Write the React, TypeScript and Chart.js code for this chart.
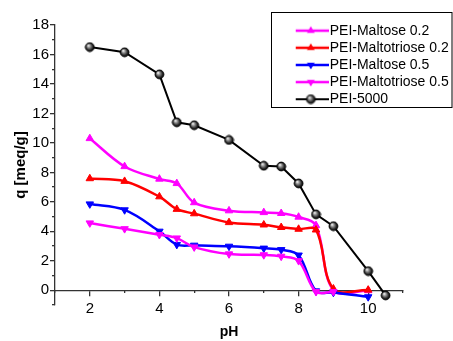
import React, { useEffect, useRef } from 'react';
import { Chart, registerables } from 'chart.js';

Chart.register(...registerables);

// ---- Data ----
const seriesNames = [
  'PEI-Maltose 0.2',
  'PEI-Maltotriose 0.2',
  'PEI-Maltose 0.5',
  'PEI-Maltotriose 0.5',
  'PEI-5000',
];

const phMaltose02 = [2, 3, 4, 4.5, 5, 6, 7, 7.5, 8, 8.5, 9, 10];
const qMaltose02 = [10.3, 8.4, 7.55, 7.25, 5.95, 5.4, 5.28, 5.22, 4.97, 4.4, 0.0, -0.02];

const phMaltotriose02 = [2, 3, 4, 4.5, 5, 6, 7, 7.5, 8, 8.5, 9, 10];
const qMaltotriose02 = [7.58, 7.4, 6.35, 5.5, 5.2, 4.6, 4.44, 4.27, 4.15, 4.1, 0.1, 0.02];

const phMaltose05 = [2, 3, 4, 4.5, 5, 6, 7, 7.5, 8, 8.5, 9, 10];
const qMaltose05 = [5.85, 5.45, 4.0, 3.1, 3.05, 2.98, 2.85, 2.75, 2.38, -0.05, -0.15, -0.45];

const phMaltotriose05 = [2, 3, 4, 4.5, 5, 6, 7, 7.5, 8, 8.5, 9];
const qMaltotriose05 = [4.56, 4.17, 3.77, 3.54, 2.93, 2.46, 2.4, 2.3, 2.0, -0.1, -0.1];

const phPEI5000 = [2, 3, 4, 4.5, 5, 6, 7, 7.5, 8, 8.5, 9, 10, 10.5];
const qPEI5000 = [16.5, 16.15, 14.65, 11.4, 11.2, 10.2, 8.45, 8.4, 7.25, 5.15, 4.35, 1.3, -0.35];

const xMajorTicks = [2, 4, 6, 8, 10];
const xMinorTicks = [1, 3, 5, 7, 9, 11];
const yMajorTicks = [0, 2, 4, 6, 8, 10, 12, 14, 16, 18];
const yMinorTicks = [-1, 1, 3, 5, 7, 9, 11, 13, 15, 17];

const FONT = "'Liberation Sans', Arial, Helvetica, sans-serif";
const AXIS = '#333333';

function makeSphere(r: number): HTMLCanvasElement {
  const size = Math.ceil(r * 2 + 2);
  const c = document.createElement('canvas');
  c.width = size;
  c.height = size;
  const ctx = c.getContext('2d')!;
  const cx = size / 2;
  const g = ctx.createRadialGradient(cx - r * 0.35, cx - r * 0.4, r * 0.05, cx, cx, r);
  g.addColorStop(0, '#ffffff');
  g.addColorStop(0.3, '#a0a0a0');
  g.addColorStop(0.75, '#2a2a2a');
  g.addColorStop(1, '#000000');
  ctx.beginPath();
  ctx.arc(cx, cx, r, 0, Math.PI * 2);
  ctx.fillStyle = g;
  ctx.fill();
  ctx.lineWidth = 1;
  ctx.strokeStyle = '#000';
  ctx.stroke();
  return c;
}

function makeLegendGlyph(color: string, kind: 'up' | 'down' | 'sphere', sphere: HTMLCanvasElement): HTMLCanvasElement {
  const w = 36;
  const h = 12;
  const c = document.createElement('canvas');
  c.width = w;
  c.height = h;
  const ctx = c.getContext('2d')!;
  const cy = h / 2;
  ctx.strokeStyle = color;
  ctx.lineWidth = kind === 'sphere' ? 2 : 2.5;
  ctx.beginPath();
  ctx.moveTo(0, cy);
  ctx.lineTo(w, cy);
  ctx.stroke();
  const cx = w / 2;
  if (kind === 'sphere') {
    ctx.drawImage(sphere, cx - sphere.width / 2, cy - sphere.height / 2);
  } else {
    const r = 4.5;
    const dir = kind === 'up' ? -1 : 1;
    ctx.beginPath();
    ctx.moveTo(cx, cy + dir * r);
    ctx.lineTo(cx + r * 0.866, cy - dir * r * 0.5);
    ctx.lineTo(cx - r * 0.866, cy - dir * r * 0.5);
    ctx.closePath();
    ctx.fillStyle = color;
    ctx.fill();
  }
  return c;
}

const toPoints = (xs: number[], ys: number[]) => xs.map((x, i) => ({ x, y: ys[i] }));

export default function App() {
  const canvasRef = useRef<HTMLCanvasElement | null>(null);

  useEffect(() => {
    const canvas = canvasRef.current;
    if (!canvas) return;

    const sphere = makeSphere(4.4);
    const colors = ['#ff00ff', '#ff0000', '#0000ff', '#ff00ff', '#000000'];
    const kinds: ('up' | 'down' | 'sphere')[] = ['up', 'up', 'down', 'down', 'sphere'];
    const glyphs = colors.map((c, i) => makeLegendGlyph(c, kinds[i], sphere));

    const xs = [phMaltose02, phMaltotriose02, phMaltose05, phMaltotriose05, phPEI5000];
    const ys = [qMaltose02, qMaltotriose02, qMaltose05, qMaltotriose05, qPEI5000];

    const datasets: any[] = seriesNames.map((name, i) => {
      const isBlack = kinds[i] === 'sphere';
      return {
        label: name,
        data: toPoints(xs[i], ys[i]),
        xAxisID: 'x',
        yAxisID: 'y',
        borderColor: colors[i],
        backgroundColor: colors[i],
        borderWidth: isBlack ? 2 : 2.5,
        tension: isBlack ? 0 : 0.35,
        cubicInterpolationMode: 'default',
        pointStyle: isBlack ? sphere : 'triangle',
        pointRotation: kinds[i] === 'down' ? 180 : 0,
        pointRadius: isBlack ? 4.4 : 4.3,
        pointBorderWidth: isBlack ? 0 : 1,
        pointBorderColor: colors[i],
        pointBackgroundColor: colors[i],
        order: 5 - i,
        clip: false,
      };
    });

    const LEG_LEFT = 295.75;
    const LEG_TOP = 20.5;

    const legendFrame = {
      id: 'legendFrame',
      beforeDraw(chart: any) {
        const lg = chart.legend;
        if (lg) {
          lg.left = LEG_LEFT;
          lg.top = LEG_TOP;
          lg.width = 160;
          lg.height = 100;
          lg.right = lg.left + lg.width;
          lg.bottom = lg.top + lg.height;
        }
      },
      afterDraw(chart: any) {
        const ctx = chart.ctx;
        ctx.save();
        ctx.strokeStyle = '#000';
        ctx.lineWidth = 1;
        ctx.strokeRect(271.5, 12.5, 180.5, 95);
        ctx.restore();
      },
    };

    const chart = new Chart(canvas, {
      type: 'line',
      data: { datasets },
      options: {
        animation: false,
        responsive: false,
        maintainAspectRatio: false,
        devicePixelRatio: 1,
        layout: { padding: { left: 0, top: 25, right: 50, bottom: 36 } },
        font: { family: FONT },
        plugins: {
          tooltip: { enabled: false },
          legend: {
            position: 'chartArea',
            align: 'start',
            labels: {
              usePointStyle: true,
              pointStyleWidth: 23.8,
              padding: 3.15,
              color: '#000',
              font: { family: FONT, size: 14 },
              generateLabels: () =>
                seriesNames.map((name, i) => ({
                  text: name,
                  pointStyle: glyphs[i],
                  fillStyle: colors[i],
                  strokeStyle: colors[i],
                  lineWidth: 0,
                  hidden: false,
                  datasetIndex: i,
                  fontColor: '#000',
                })),
            },
          },
        },
        scales: {
          x: {
            type: 'linear',
            axis: 'x',
            position: { y: 0 },
            min: 1,
            max: 11,
            afterBuildTicks: (s: any) => {
              s.ticks = xMajorTicks.map((v) => ({ value: v }));
            },
            ticks: {
              color: '#000',
              padding: 5,
              font: { family: FONT, size: 15 },
              callback: (v: any) => String(v),
            },
            grid: { drawOnChartArea: false, tickLength: 5, color: AXIS, lineWidth: 1.3 },
            border: { display: true, color: AXIS, width: 1.3 },
            title: {
              display: true,
              text: 'pH',
              color: '#000',
              font: { family: FONT, size: 14, weight: 'bold' },
              padding: { top: 0, bottom: 4 },
            },
          },
          xMinor: {
            type: 'linear',
            axis: 'x',
            position: { y: 0 },
            min: 1,
            max: 11,
            afterBuildTicks: (s: any) => {
              s.ticks = xMinorTicks.map((v) => ({ value: v }));
            },
            ticks: { display: false },
            grid: { drawOnChartArea: false, tickLength: 3, color: AXIS, lineWidth: 1.3 },
            border: { display: false },
          },
          y: {
            type: 'linear',
            axis: 'y',
            position: 'left',
            min: -1,
            max: 18,
            afterBuildTicks: (s: any) => {
              s.ticks = yMajorTicks.map((v) => ({ value: v }));
            },
            afterFit: (s: any) => {
              s.width = 55;
            },
            ticks: {
              color: '#000',
              padding: 1,
              font: { family: FONT, size: 15 },
              callback: (v: any) => String(v),
            },
            grid: { drawOnChartArea: false, tickLength: 5, color: AXIS, lineWidth: 1.3 },
            border: { display: true, color: AXIS, width: 1.3 },
            title: {
              display: true,
              text: 'q [meq/g]',
              color: '#000',
              font: { family: FONT, size: 15, weight: 'bold' },
              padding: { top: 12, bottom: 0 },
            },
          },
          yMinor: {
            type: 'linear',
            axis: 'y',
            position: { x: 1 },
            min: -1,
            max: 18,
            afterBuildTicks: (s: any) => {
              s.ticks = yMinorTicks.map((v) => ({ value: v }));
            },
            ticks: { display: false },
            grid: { drawOnChartArea: false, tickLength: 3, color: AXIS, lineWidth: 1.3 },
            border: { display: false },
          },
        },
      } as any,
      plugins: [legendFrame],
    });

    return () => {
      chart.destroy();
    };
  }, []);

  return (
    <div style={{ position: 'absolute', left: 0, top: 0, width: 453, height: 341, background: '#fff' }}>
      <canvas ref={canvasRef} width={453} height={341} style={{ display: 'block', width: 453, height: 341 }} />
    </div>
  );
}
